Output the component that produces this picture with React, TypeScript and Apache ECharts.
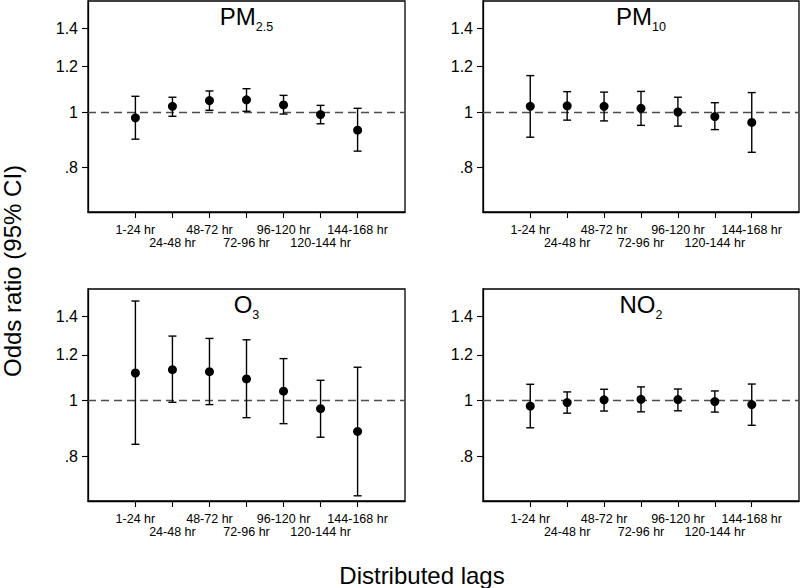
import React, { useEffect, useRef } from 'react';
import * as echarts from 'echarts';

const FONT = '"Liberation Sans", Arial, Helvetica, sans-serif';

// Categories (distributed lags) and their positions on the x scale
const lagLabels = ['1-24 hr', '24-48 hr', '48-72 hr', '72-96 hr', '96-120 hr', '120-144 hr', '144-168 hr'];
const lagPositions = [1, 2, 3, 4, 5, 6, 7];
const upperRowPositions = [1, 3, 5, 7];
const lowerRowPositions = [2, 4, 6];
const yTickValues = [0.8, 1, 1.2, 1.4];

// PM2.5
const pm25Est = [0.977, 1.023, 1.047, 1.050, 1.029, 0.990, 0.930];
const pm25Lo = [0.897, 0.983, 1.007, 1.003, 0.992, 0.954, 0.855];
const pm25Hi = [1.065, 1.061, 1.088, 1.098, 1.069, 1.027, 1.015];

// PM10
const pm10Est = [1.023, 1.025, 1.023, 1.015, 1.000, 0.982, 0.959];
const pm10Lo = [0.904, 0.968, 0.965, 0.948, 0.945, 0.932, 0.851];
const pm10Hi = [1.157, 1.085, 1.083, 1.086, 1.061, 1.038, 1.081];

// O3
const o3Est = [1.116, 1.131, 1.122, 1.090, 1.038, 0.968, 0.884];
const o3Lo = [0.840, 0.993, 0.984, 0.934, 0.912, 0.864, 0.684];
const o3Hi = [1.487, 1.293, 1.281, 1.274, 1.182, 1.084, 1.142];

// NO2
const no2Est = [0.978, 0.992, 1.003, 1.005, 1.004, 0.996, 0.984];
const no2Lo = [0.897, 0.951, 0.959, 0.956, 0.960, 0.955, 0.906];
const no2Hi = [1.067, 1.035, 1.046, 1.056, 1.047, 1.039, 1.068];

const panelData = [
  { main: 'PM', sub: '2.5', est: pm25Est, lo: pm25Lo, hi: pm25Hi },
  { main: 'PM', sub: '10', est: pm10Est, lo: pm10Lo, hi: pm10Hi },
  { main: 'O', sub: '3', est: o3Est, lo: o3Lo, hi: o3Hi },
  { main: 'NO', sub: '2', est: no2Est, lo: no2Lo, hi: no2Hi },
];

// layout (pixels)
const gridLayout = [
  { left: 88, top: 1, width: 317, height: 211 },
  { left: 483, top: 1, width: 316, height: 211 },
  { left: 88, top: 289, width: 317, height: 212 },
  { left: 483, top: 289, width: 316, height: 212 },
];

const fmtY = (v: number) => {
  const r = Math.round(v * 10) / 10;
  if (r === 1) return '1';
  return r.toFixed(1).replace(/^0/, '');
};

const fmtX = (v: number) => lagLabels[Math.round(v) - 1] ?? '';

export default function App() {
  const ref = useRef<HTMLDivElement>(null);
  useEffect(() => {
    if (!ref.current) return;
    const chart = echarts.init(ref.current, undefined, { renderer: 'svg' });

    const grids: any[] = [];
    const xAxes: any[] = [];
    const yAxes: any[] = [];
    const series: any[] = [];
    const graphics: any[] = [];

    const labelBase = {
      formatter: fmtX,
      fontSize: 12.5,
      color: '#000',
      fontFamily: FONT,
      verticalAlign: 'top',
      hideOverlap: false,
      showMinLabel: true,
      showMaxLabel: true,
    };

    panelData.forEach((p, i) => {
      const g = gridLayout[i];
      grids.push({ ...g, show: true, borderColor: '#000', borderWidth: 1.3, backgroundColor: '#fff' });
      // primary x axis: all ticks, upper row of labels
      xAxes.push({
        gridIndex: i,
        type: 'value',
        min: -0.28,
        max: 8.28,
        position: 'bottom',
        axisLine: { show: true, onZero: false, lineStyle: { color: '#000', width: 1.3 } },
        axisTick: { show: true, length: 6, customValues: lagPositions, lineStyle: { color: '#000', width: 1.1 } },
        axisLabel: { ...labelBase, customValues: upperRowPositions, margin: 11 },
        splitLine: { show: false },
      });
      // secondary x axis: lower row of staggered labels
      xAxes.push({
        gridIndex: i,
        type: 'value',
        min: -0.28,
        max: 8.28,
        position: 'bottom',
        axisLine: { show: false, onZero: false },
        axisTick: { show: false },
        axisLabel: { ...labelBase, customValues: lowerRowPositions, margin: 24.5 },
        splitLine: { show: false },
      });
      yAxes.push({
        gridIndex: i,
        type: 'log',
        logBase: 10,
        min: 0.67,
        max: 1.56,
        axisLine: { show: true, onZero: false, lineStyle: { color: '#000', width: 1.3 } },
        axisTick: { show: true, length: 6, customValues: yTickValues, lineStyle: { color: '#000', width: 1.1 } },
        axisLabel: { customValues: yTickValues, formatter: fmtY, fontSize: 16, color: '#000', fontFamily: FONT, margin: 10, showMinLabel: true, showMaxLabel: true },
        splitLine: { show: false },
        minorTick: { show: false },
      });

      series.push({
        type: 'custom',
        xAxisIndex: 2 * i,
        yAxisIndex: i,
        z: 3,
        data: lagPositions.map((x, k) => [x, p.lo[k], p.hi[k]]),
        encode: { x: 0, y: [1, 2] },
        renderItem: (params: any, api: any) => {
          const x = api.value(0);
          const lo = api.coord([x, api.value(1)]);
          const hi = api.coord([x, api.value(2)]);
          const w = 4;
          const style = { stroke: '#000', lineWidth: 1.4 };
          return {
            type: 'group',
            children: [
              { type: 'line', shape: { x1: lo[0], y1: lo[1], x2: hi[0], y2: hi[1] }, style },
              { type: 'line', shape: { x1: hi[0] - w, y1: hi[1], x2: hi[0] + w, y2: hi[1] }, style },
              { type: 'line', shape: { x1: lo[0] - w, y1: lo[1], x2: lo[0] + w, y2: lo[1] }, style },
            ],
          };
        },
      });
      series.push({
        type: 'scatter',
        xAxisIndex: 2 * i,
        yAxisIndex: i,
        z: 4,
        symbol: 'circle',
        symbolSize: 9,
        itemStyle: { color: '#000', opacity: 1 },
        data: lagPositions.map((x, k) => [x, p.est[k]]),
        markLine: {
          silent: true,
          symbol: 'none',
          z: 2,
          label: { show: false },
          lineStyle: { color: '#4d4d4d', type: [8, 5], width: 1.3 },
          data: [{ yAxis: 1 }],
        },
      });

      graphics.push({
        type: 'text',
        x: g.left + g.width / 2,
        y: g.top + 3,
        style: {
          text: `{a|${p.main}}{b|${p.sub}}`,
          align: 'center',
          verticalAlign: 'top',
          rich: {
            a: { fontSize: 24, fontFamily: FONT, fill: '#000', verticalAlign: 'top' },
            b: { fontSize: 12.5, fontFamily: FONT, fill: '#000', verticalAlign: 'top', padding: [16, 0, 0, 0] },
          },
        },
      });
    });

    graphics.push({
      type: 'text',
      x: 12,
      y: 271,
      rotation: Math.PI / 2,
      style: { text: 'Odds ratio (95% CI)', fontSize: 24, fontFamily: FONT, fill: '#000', align: 'center', verticalAlign: 'middle' },
    });
    graphics.push({
      type: 'text',
      x: 422,
      y: 575,
      style: { text: 'Distributed lags', fontSize: 24, fontFamily: FONT, fill: '#000', align: 'center', verticalAlign: 'middle' },
    });

    chart.setOption({
      animation: false,
      backgroundColor: '#fff',
      textStyle: { fontFamily: FONT },
      grid: grids,
      xAxis: xAxes,
      yAxis: yAxes,
      series,
      graphic: graphics,
    });
    return () => chart.dispose();
  }, []);
  return <div ref={ref} style={{ position: 'fixed', left: 0, top: 0, width: 800, height: 588 }} />;
}
